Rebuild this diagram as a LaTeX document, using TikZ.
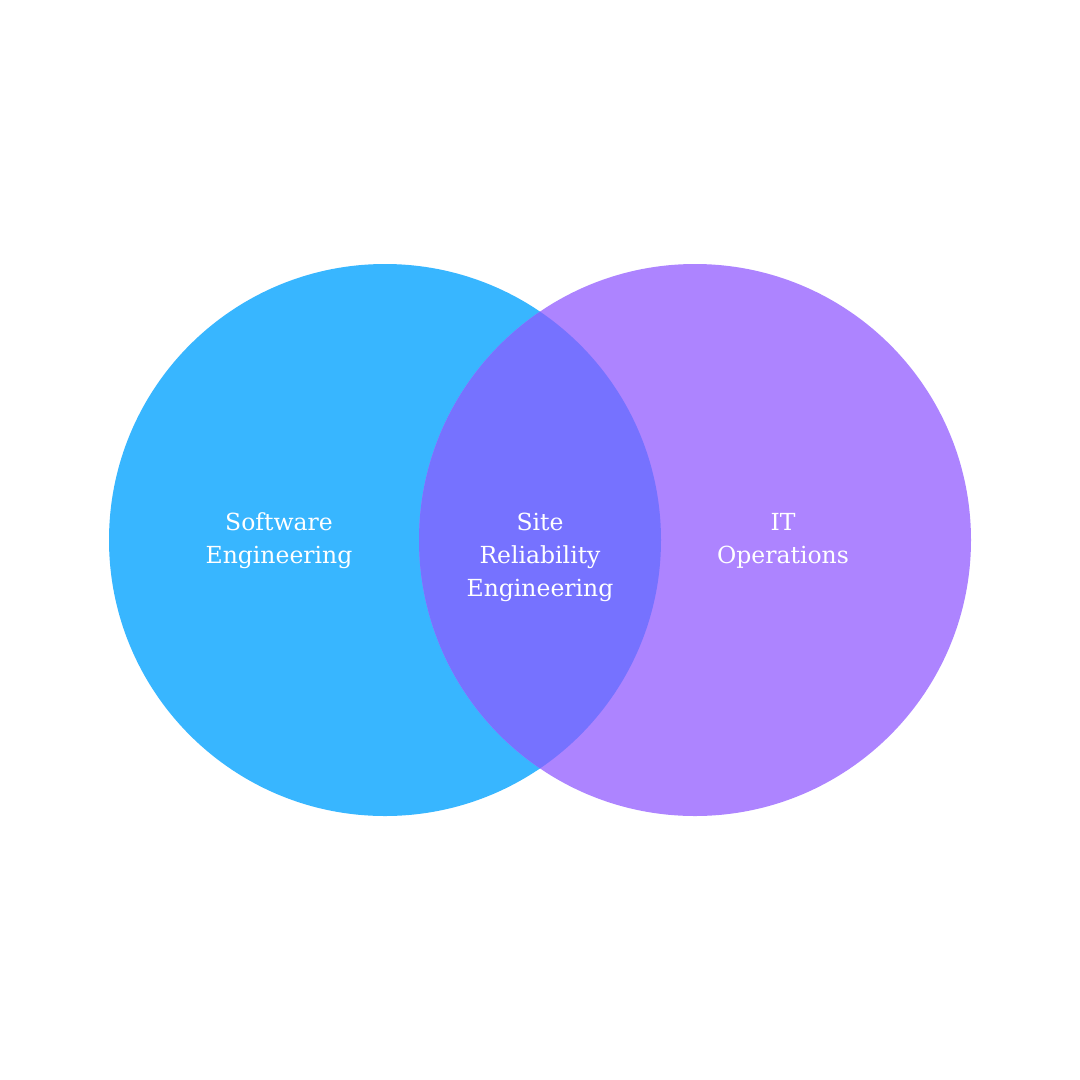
\documentclass[tikz,border=0pt]{standalone}
\usepackage{fontspec}
\setmainfont{DejaVu Serif}
\definecolor{swblue}{HTML}{38B6FF}
\definecolor{itpurple}{HTML}{AD84FF}
\definecolor{srecol}{HTML}{7672FF}
\begin{document}
\begin{tikzpicture}[x=1pt,y=-1pt,
  lbl/.style={text=white,align=center,font=\fontsize{23.5}{33}\selectfont}]
\useasboundingbox (0,0) rectangle (1080,1080);
\fill[swblue] (385,540) circle[radius=276];
\fill[itpurple] (695,540) circle[radius=276];
\begin{scope}
\clip (385,540) circle[radius=276];
\fill[srecol] (695,540) circle[radius=276];
\end{scope}
\node[lbl] (sw) at (279,541) {Software\\Engineering};
\node[lbl] (sre) at (540,557) {Site\\Reliability\\Engineering};
\node[lbl] (it) at (783,541) {IT\\Operations};
\end{tikzpicture}
\end{document}
